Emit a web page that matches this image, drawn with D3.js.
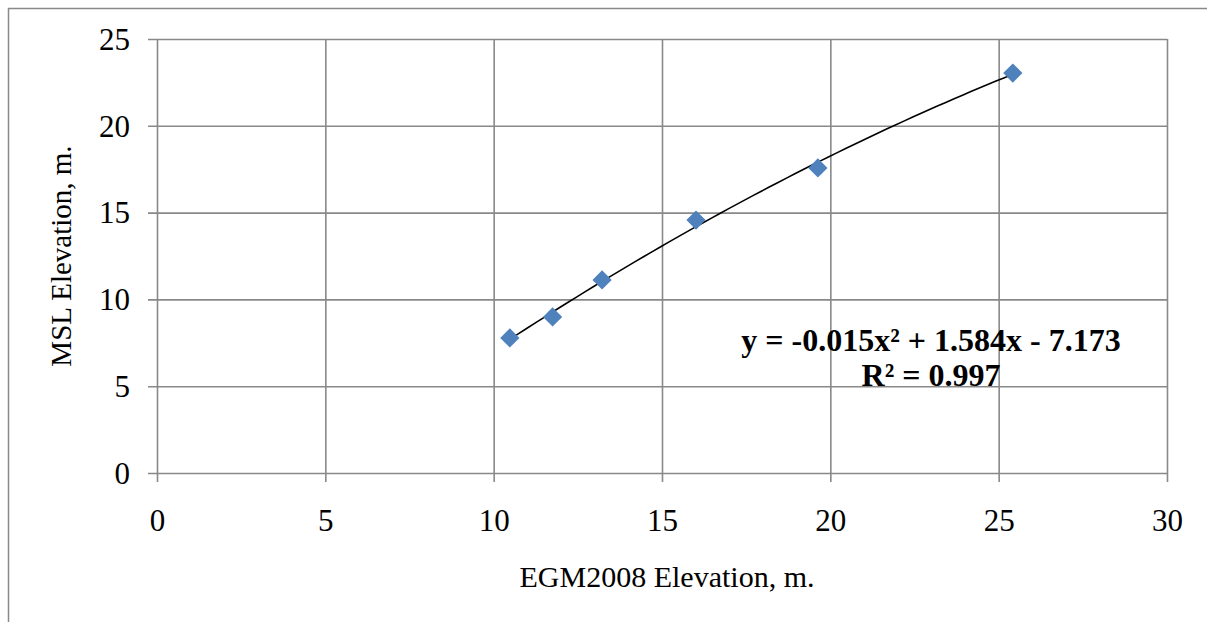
<!DOCTYPE html>
<html>
<head>
<meta charset="utf-8">
<script src="https://cdn.jsdelivr.net/npm/d3@7"></script>
<style>
  body { margin: 0; background: #fff; }
  svg { display: block; }
  text { font-family: "Liberation Serif", "Times New Roman", serif; fill: #000; }
</style>
</head>
<body>
<div class="chart"></div>
<script>
// data
let egmElevation = [10.48, 11.75, 13.22, 16.01, 19.63, 25.42];
let mslElevation = [7.78, 8.99, 11.12, 14.57, 17.57, 23.04];
let xTicks = [0, 5, 10, 15, 20, 25, 30];
let yTicks = [0, 5, 10, 15, 20, 25];
let equationLines = ['y = -0.015x\u00B2 + 1.584x - 7.173', 'R\u00B2 = 0.997'];

let data = egmElevation.map((x, i) => ({ x: x, y: mslElevation[i] }));

// canvas size and plot area
let W = 1207, H = 622;
let margin = { top: 39, right: 40, bottom: 149, left: 157 },
    width = W - margin.left - margin.right,
    height = H - margin.top - margin.bottom;
let gridColor = '#898989';

let svg = d3.select('.chart').append('svg')
    .attr('width', W)
    .attr('height', H);

// chart area border (runs off the right and bottom)
svg.append('rect')
    .attr('x', 8.5).attr('y', 8.5)
    .attr('width', W + 20).attr('height', H + 20)
    .attr('fill', 'none')
    .attr('stroke', gridColor)
    .attr('stroke-width', 1.5);

let g = svg.append('g')
    .attr('transform', 'translate(' + margin.left + ',' + margin.top + ')');

let x = d3.scaleLinear().domain([0, 30]).range([0, width]);
let y = d3.scaleLinear().domain([0, 25]).range([height, 0]);

// y axis + horizontal gridlines, ticks stick out 9px
let yAxis = d3.axisLeft(y).tickValues(yTicks).tickSize(-(width + 9)).tickPadding(18);
let gy = g.append('g')
    .attr('transform', 'translate(-9,0)')
    .call(yAxis);
gy.select('.domain').remove();
gy.selectAll('.tick line').attr('stroke', gridColor).attr('stroke-width', 1.6);
gy.selectAll('.tick text')
    .style('font-size', '31px')
    .attr('dy', '0.33em');

// x axis + vertical gridlines
let xAxis = d3.axisBottom(x).tickValues(xTicks).tickSize(-(height + 9)).tickPadding(27);
let gx = g.append('g')
    .attr('transform', 'translate(0,' + (height + 9) + ')')
    .call(xAxis);
gx.select('.domain').remove();
gx.selectAll('.tick line').attr('stroke', gridColor).attr('stroke-width', 1.6);
gx.selectAll('.tick text')
    .style('font-size', '31px')
    .attr('dy', '0.71em');

// axis titles
g.append('text')
    .attr('text-anchor', 'middle')
    .attr('transform', 'translate(' + (width / 2 + 5) + ',' + (height + 114) + ')')
    .style('font-size', '30px')
    .text('EGM2008 Elevation, m.');

g.append('text')
    .attr('text-anchor', 'middle')
    .attr('transform', 'translate(' + (71 - margin.left) + ',' + (height / 2) + ')rotate(-90)')
    .style('font-size', '29px')
    .text('MSL Elevation, m.');

// polynomial (order 2) trendline by least squares
function fitQuadratic(pts) {
    let s = [0, 0, 0, 0, 0], t = [0, 0, 0];
    pts.forEach(p => {
        for (let k = 0; k < 5; k++) s[k] += Math.pow(p.x, k);
        for (let k = 0; k < 3; k++) t[k] += p.y * Math.pow(p.x, k);
    });
    let m = [
        [s[0], s[1], s[2], t[0]],
        [s[1], s[2], s[3], t[1]],
        [s[2], s[3], s[4], t[2]]
    ];
    for (let i = 0; i < 3; i++) {
        for (let j = i + 1; j < 3; j++) {
            let f = m[j][i] / m[i][i];
            for (let k = i; k < 4; k++) m[j][k] -= f * m[i][k];
        }
    }
    let c = [0, 0, 0];
    for (let i = 2; i >= 0; i--) {
        let v = m[i][3];
        for (let k = i + 1; k < 3; k++) v -= m[i][k] * c[k];
        c[i] = v / m[i][i];
    }
    return c; // c0 + c1 x + c2 x^2
}
let coef = fitQuadratic(data);
let xMin = d3.min(egmElevation), xMax = d3.max(egmElevation);
let trend = d3.range(0, 61).map(i => {
    let xv = xMin + (xMax - xMin) * i / 60;
    return { x: xv, y: coef[0] + coef[1] * xv + coef[2] * xv * xv };
});

g.append('path')
    .datum(trend)
    .attr('fill', 'none')
    .attr('stroke', '#000')
    .attr('stroke-width', 1.6)
    .attr('d', d3.line().x(d => x(d.x)).y(d => y(d.y)));

// diamond markers
g.selectAll('.dot')
    .data(data)
    .enter().append('path')
    .attr('class', 'dot')
    .attr('d', d3.symbol(d3.symbolSquare, 185))
    .attr('fill', '#4F81BD')
    .attr('transform', d => 'translate(' + x(d.x) + ',' + y(d.y) + ')rotate(45)');

// trendline label
let eq = g.append('text')
    .attr('text-anchor', 'middle')
    .attr('font-weight', 'bold')
    .style('font-size', '32px');
eq.selectAll('tspan')
    .data(equationLines)
    .enter().append('tspan')
    .attr('x', 931 - margin.left)
    .attr('y', (d, i) => 351 - margin.top + i * 35)
    .text(d => d);
</script>
</body>
</html>
